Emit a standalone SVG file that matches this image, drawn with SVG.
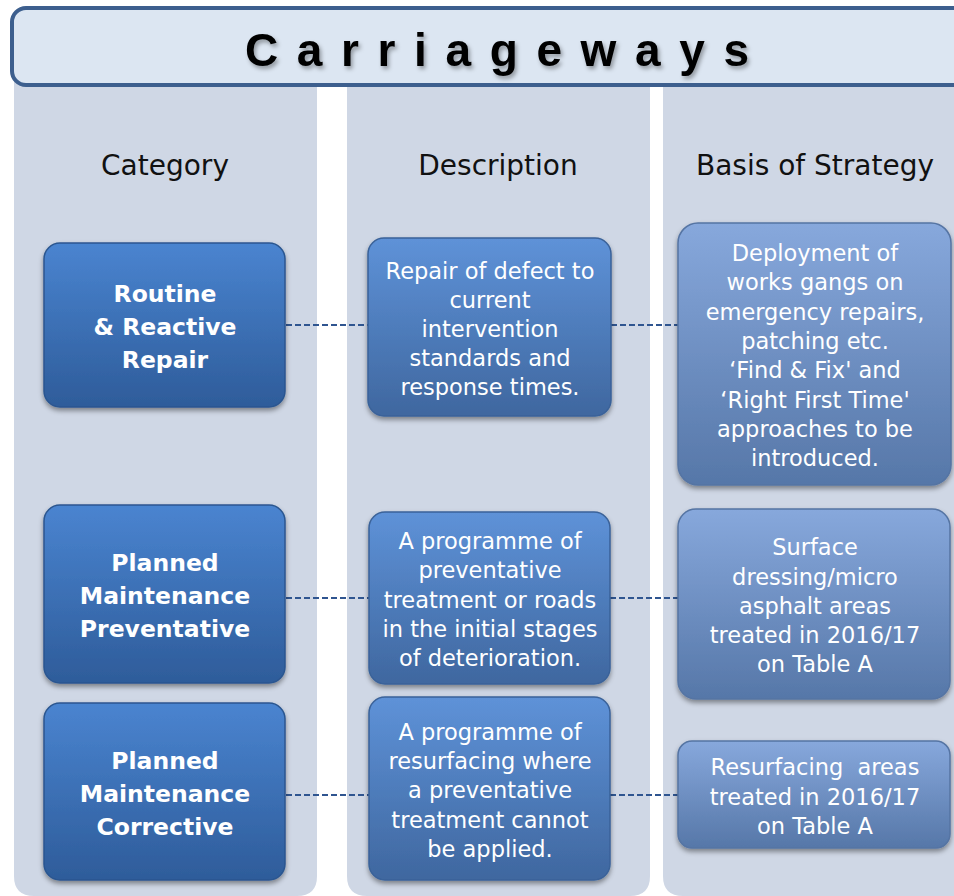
<svg xmlns="http://www.w3.org/2000/svg" width="954" height="896" viewBox="0 0 954 896">
<defs>
<linearGradient id="g1" x1="0" y1="0" x2="0" y2="1"><stop offset="0" stop-color="#4a84d0"/><stop offset="1" stop-color="#2e5c9a"/></linearGradient>
<linearGradient id="g2" x1="0" y1="0" x2="0" y2="1"><stop offset="0" stop-color="#5e92d8"/><stop offset="1" stop-color="#3f679f"/></linearGradient>
<linearGradient id="g3" x1="0" y1="0" x2="0" y2="1"><stop offset="0" stop-color="#87a8dc"/><stop offset="1" stop-color="#5677a8"/></linearGradient>
<filter id="sh" x="-10%" y="-10%" width="120%" height="125%"><feDropShadow dx="0" dy="3" stdDeviation="2.5" flood-color="#000" flood-opacity="0.4"/></filter>
<filter id="tsh" x="-10%" y="-20%" width="120%" height="160%"><feDropShadow dx="2" dy="3" stdDeviation="2" flood-color="#000" flood-opacity="0.35"/></filter>
</defs>
<style>
.col{fill:#cfd7e5}
.hd{font-family:"DejaVu Sans","Liberation Sans",sans-serif;font-size:28px;fill:#111;text-anchor:middle}
.b1{fill:url(#g1);stroke:#2b5690;stroke-width:1.5;filter:url(#sh)}
.b2{fill:url(#g2);stroke:#3a6299;stroke-width:1.5;filter:url(#sh)}
.b3{fill:url(#g3);stroke:#5574a3;stroke-width:1.5;filter:url(#sh)}
.t1{font-family:"DejaVu Sans","Liberation Sans",sans-serif;font-weight:bold;font-size:23.5px;fill:#fff;text-anchor:middle}
.t2{font-family:"DejaVu Sans","Liberation Sans",sans-serif;font-size:22.5px;fill:#fff;text-anchor:middle}
.cn{stroke:#2f5590;stroke-width:2;stroke-dasharray:6 3;fill:none}
</style>
<rect width="954" height="896" fill="#ffffff"/>
<g id="columns">
<path class="col" d="M14 80 H317 V876 Q317 896 297 896 H34 Q14 896 14 876 Z"/>
<path class="col" d="M347 80 H650 V876 Q650 896 630 896 H367 Q347 896 347 876 Z"/>
<path class="col" d="M663 80 H960 V896 H683 Q663 896 663 876 Z"/>
</g>
<g id="title">
<rect x="12" y="8" width="960" height="77" rx="14" fill="#dce6f2" stroke="#3d5f8e" stroke-width="4"/>
<text x="497" y="66" font-family="Liberation Sans,Arial,sans-serif" font-weight="bold" font-size="46" fill="#000" text-anchor="middle" textLength="504" lengthAdjust="spacing" filter="url(#tsh)">Carriageways</text>
</g>
<g id="headers">
<text class="hd" x="165" y="175">Category</text>
<text class="hd" x="498" y="175">Description</text>
<text class="hd" x="815" y="175">Basis of Strategy</text>
</g>
<g id="connectors">
<line class="cn" x1="286" y1="325" x2="368" y2="325"/>
<line class="cn" x1="611" y1="325" x2="678" y2="325"/>
<line class="cn" x1="286" y1="598" x2="369" y2="598"/>
<line class="cn" x1="610" y1="598" x2="678" y2="598"/>
<line class="cn" x1="286" y1="795" x2="369" y2="795"/>
<line class="cn" x1="610" y1="795" x2="678" y2="795"/>
</g>
<g id="cat-routine">
<rect class="b1" x="44" y="243" width="241" height="164" rx="16"/>
<text class="t1" x="165" y="302">Routine</text>
<text class="t1" x="165" y="335">&amp; Reactive</text>
<text class="t1" x="165" y="368">Repair</text>
</g>
<g id="cat-preventative">
<rect class="b1" x="44" y="505" width="241" height="178" rx="16"/>
<text class="t1" x="165" y="571">Planned</text>
<text class="t1" x="165" y="604">Maintenance</text>
<text class="t1" x="165" y="637">Preventative</text>
</g>
<g id="cat-corrective">
<rect class="b1" x="44" y="703" width="241" height="177" rx="16"/>
<text class="t1" x="165" y="769">Planned</text>
<text class="t1" x="165" y="802">Maintenance</text>
<text class="t1" x="165" y="835">Corrective</text>
</g>
<g id="desc-routine">
<rect class="b2" x="368" y="238" width="243" height="178" rx="16"/>
<text class="t2" x="490" y="279">Repair of defect to</text>
<text class="t2" x="490" y="308">current</text>
<text class="t2" x="490" y="337">intervention</text>
<text class="t2" x="490" y="366">standards and</text>
<text class="t2" x="490" y="395">response times.</text>
</g>
<g id="desc-preventative">
<rect class="b2" x="369" y="512" width="241" height="172" rx="16"/>
<text class="t2" x="490" y="549">A programme of</text>
<text class="t2" x="490" y="578">preventative</text>
<text class="t2" x="490" y="608">treatment or roads</text>
<text class="t2" x="490" y="637">in the initial stages</text>
<text class="t2" x="490" y="666">of deterioration.</text>
</g>
<g id="desc-corrective">
<rect class="b2" x="369" y="697" width="241" height="183" rx="16"/>
<text class="t2" x="490" y="740">A programme of</text>
<text class="t2" x="490" y="769">resurfacing where</text>
<text class="t2" x="490" y="798">a preventative</text>
<text class="t2" x="490" y="828">treatment cannot</text>
<text class="t2" x="490" y="857">be applied.</text>
</g>
<g id="basis-routine">
<rect class="b3" x="678" y="223" width="273" height="262" rx="20"/>
<text class="t2" x="815" y="261">Deployment of</text>
<text class="t2" x="815" y="290">works gangs on</text>
<text class="t2" x="815" y="320">emergency repairs,</text>
<text class="t2" x="815" y="349">patching etc.</text>
<text class="t2" x="815" y="378">‘Find &amp; Fix' and</text>
<text class="t2" x="815" y="408">‘Right First Time'</text>
<text class="t2" x="815" y="437">approaches to be</text>
<text class="t2" x="815" y="466">introduced.</text>
</g>
<g id="basis-preventative">
<rect class="b3" x="678" y="509" width="272" height="190" rx="18"/>
<text class="t2" x="815" y="555">Surface</text>
<text class="t2" x="815" y="585">dressing/micro</text>
<text class="t2" x="815" y="614">asphalt areas</text>
<text class="t2" x="815" y="643">treated in 2016/17</text>
<text class="t2" x="815" y="672">on Table A</text>
</g>
<g id="basis-corrective">
<rect class="b3" x="678" y="741" width="272" height="107" rx="14"/>
<text class="t2" x="815" y="775" xml:space="preserve" style="white-space:pre">Resurfacing  areas</text>
<text class="t2" x="815" y="805">treated in 2016/17</text>
<text class="t2" x="815" y="834">on Table A</text>
</g>
</svg>
